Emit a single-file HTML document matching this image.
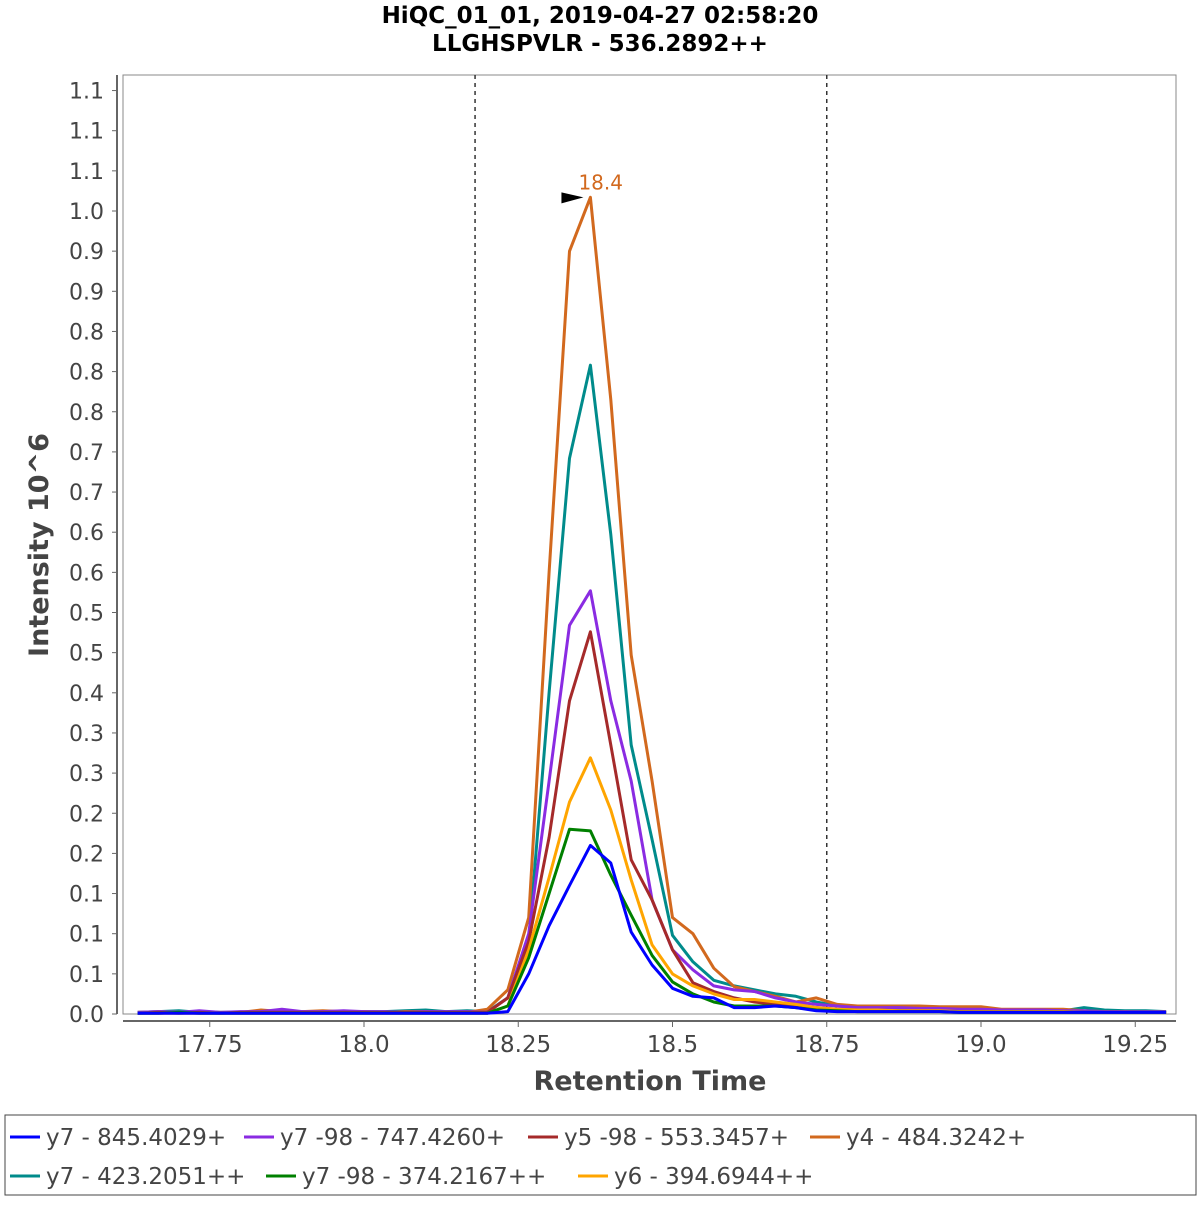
<!DOCTYPE html>
<html><head><meta charset="utf-8"><style>
body{margin:0;background:#fff;}
svg text{font-family:"DejaVu Sans","Liberation Sans",sans-serif;}
</style></head><body>
<svg id="c" width="1200" height="1200" xmlns="http://www.w3.org/2000/svg">
<rect width="1200" height="1200" fill="#fff"/>
<text x="600" y="23" text-anchor="middle" font-size="23" font-weight="bold">HiQC_01_01, 2019-04-27 02:58:20</text>
<text x="600" y="51" text-anchor="middle" font-size="23" font-weight="bold">LLGHSPVLR - 536.2892++</text>
<rect x="123" y="75" width="1053" height="939" fill="none" stroke="#888" stroke-width="1"/>
<g id="grid"></g>
<g id="series"></g>
<text x="48" y="545" transform="rotate(-90 48 545)" text-anchor="middle" font-size="27" font-weight="bold" fill="#444">Intensity 10^6</text>
<text x="650" y="1090" text-anchor="middle" font-size="27" font-weight="bold" fill="#444">Retention Time</text>
<rect x="5" y="1115" width="1191" height="80" fill="#fff" stroke="#444" stroke-width="1"/>
<g id="legend"></g>
</svg>
<script>
const times=[17.633,17.667,17.700,17.733,17.767,17.800,17.833,17.867,17.900,17.933,17.967,18.000,18.033,18.067,18.100,18.133,18.167,18.200,18.233,18.267,18.300,18.333,18.367,18.400,18.433,18.467,18.500,18.533,18.567,18.600,18.633,18.667,18.700,18.733,18.767,18.800,18.833,18.867,18.900,18.933,18.967,19.000,19.033,19.067,19.100,19.133,19.167,19.200,19.233,19.267,19.300];
const seriesNames=["y7 - 845.4029+","y7 -98 - 747.4260+","y5 -98 - 553.3457+","y4 - 484.3242+","y7 - 423.2051++","y7 -98 - 374.2167++","y6 - 394.6944++"];
const seriesColors=["#0000ff","#8a2be2","#a52a2a","#d2691e","#008b8b","#008000","#ffa500"];
const blueVals=[0.001,0.001,0.001,0.001,0.001,0.001,0.001,0.001,0.001,0.001,0.001,0.001,0.001,0.001,0.001,0.001,0.001,0.001,0.003,0.05,0.11,0.16,0.21,0.188,0.102,0.061,0.032,0.022,0.020,0.008,0.008,0.010,0.008,0.004,0.003,0.003,0.003,0.003,0.003,0.003,0.002,0.002,0.002,0.002,0.002,0.002,0.002,0.002,0.002,0.002,0.002];
const purpleVals=[0.002,0.003,0.002,0.004,0.002,0.003,0.003,0.006,0.003,0.003,0.004,0.003,0.003,0.002,0.003,0.003,0.003,0.002,0.02,0.10,0.29,0.484,0.527,0.39,0.29,0.142,0.08,0.055,0.035,0.030,0.028,0.020,0.015,0.012,0.010,0.008,0.008,0.008,0.007,0.007,0.006,0.006,0.005,0.005,0.005,0.004,0.004,0.003,0.003,0.003,0.003];
const brownVals=[0.001,0.002,0.001,0.002,0.001,0.002,0.002,0.002,0.002,0.002,0.002,0.002,0.002,0.002,0.002,0.002,0.002,0.002,0.02,0.09,0.22,0.39,0.476,0.335,0.192,0.142,0.08,0.039,0.028,0.020,0.015,0.012,0.010,0.008,0.006,0.005,0.005,0.004,0.004,0.004,0.003,0.003,0.003,0.003,0.003,0.003,0.002,0.002,0.002,0.002,0.002];
const orangeVals=[0.002,0.003,0.002,0.003,0.002,0.002,0.005,0.003,0.003,0.004,0.003,0.003,0.002,0.003,0.003,0.002,0.002,0.006,0.03,0.12,0.55,0.95,1.017,0.765,0.447,0.29,0.12,0.10,0.057,0.034,0.028,0.022,0.015,0.020,0.012,0.010,0.010,0.010,0.010,0.009,0.009,0.009,0.006,0.006,0.006,0.006,0.004,0.003,0.003,0.002,0.002];
const tealVals=[0.002,0.003,0.004,0.002,0.002,0.002,0.002,0.002,0.003,0.003,0.002,0.003,0.003,0.004,0.005,0.003,0.004,0.003,0.02,0.09,0.40,0.692,0.808,0.597,0.335,0.217,0.098,0.065,0.042,0.035,0.030,0.025,0.022,0.015,0.010,0.008,0.007,0.006,0.006,0.005,0.005,0.005,0.004,0.004,0.004,0.004,0.008,0.005,0.004,0.004,0.003];
const greenVals=[0.001,0.001,0.002,0.001,0.001,0.001,0.001,0.001,0.001,0.001,0.001,0.001,0.001,0.001,0.001,0.001,0.001,0.001,0.01,0.07,0.15,0.23,0.228,0.173,0.123,0.073,0.040,0.025,0.015,0.010,0.010,0.010,0.008,0.005,0.004,0.003,0.003,0.003,0.003,0.003,0.002,0.002,0.002,0.002,0.002,0.002,0.002,0.002,0.002,0.002,0.002];
const goldVals=[0.001,0.001,0.001,0.001,0.001,0.001,0.001,0.001,0.001,0.001,0.001,0.001,0.001,0.001,0.001,0.001,0.001,0.001,0.01,0.08,0.17,0.264,0.319,0.254,0.167,0.086,0.050,0.035,0.025,0.018,0.018,0.015,0.012,0.008,0.006,0.005,0.005,0.004,0.004,0.004,0.003,0.003,0.003,0.003,0.003,0.003,0.002,0.002,0.002,0.002,0.002];
const yTickValues=[0,0.05,0.1,0.15,0.2,0.25,0.3,0.35,0.4,0.45,0.5,0.55,0.6,0.65,0.7,0.75,0.8,0.85,0.9,0.95,1.0,1.05,1.1,1.15];
const yTickLabels=["0.0","0.1","0.1","0.1","0.2","0.2","0.3","0.3","0.4","0.5","0.5","0.6","0.6","0.7","0.7","0.8","0.8","0.8","0.9","0.9","1.0","1.1","1.1","1.1"];
const xTickValues=[17.75,18.0,18.25,18.5,18.75,19.0,19.25];
const xTickLabels=["17.75","18.0","18.25","18.5","18.75","19.0","19.25"];
const boundaryTimes=[18.18,18.75];
const peakTime=18.367, peakValue=1.017, peakLabel="18.4";

const NS="http://www.w3.org/2000/svg";
const X=t=>364+(t-18)*617;
const Y=v=>1014-v*803;
function mk(tag,attrs,parent){const e=document.createElementNS(NS,tag);for(const k in attrs)e.setAttribute(k,attrs[k]);parent.appendChild(e);return e;}
const grid=document.getElementById('grid'),ser=document.getElementById('series'),leg=document.getElementById('legend');
let ax=mk('line',{x1:117,y1:75,x2:117,y2:1014,stroke:'#666','stroke-width':2},grid);


let bx=mk('line',{x1:123,y1:1021,x2:1176,y2:1021,stroke:'#666','stroke-width':2},grid);


yTickValues.forEach((v,i)=>{const y=Y(v);
 mk('line',{x1:112,y1:y,x2:117,y2:y,stroke:'#666'},grid);
 const t=mk('text',{x:104,y:y+8,'text-anchor':'end','font-size':22,fill:'#444'},grid);t.textContent=yTickLabels[i];
 
 });
xTickValues.forEach((v,i)=>{const x=X(v);
 mk('line',{x1:x,y1:1021,x2:x,y2:1027,stroke:'#666'},grid);
 const t=mk('text',{x:x,y:1052,'text-anchor':'middle','font-size':23,fill:'#444'},grid);t.textContent=xTickLabels[i];
 
 });
boundaryTimes.forEach(b=>{const l=mk('line',{x1:X(b),y1:75,x2:X(b),y2:1014,stroke:'#333','stroke-width':1.5,'stroke-dasharray':'4,4'},grid);
 
 });
const allVals=[blueVals,purpleVals,brownVals,orangeVals,tealVals,greenVals,goldVals];
const order=[4,3,1,2,6,5,0];
order.forEach(si=>{const vals=allVals[si];
 const p=mk('polyline',{points:vals.map((v,i)=>X(times[i]).toFixed(1)+','+Y(v).toFixed(1)).join(' '),fill:'none',stroke:seriesColors[si],'stroke-width':3,'stroke-linejoin':'round'},ser);
 
 });
const px=X(peakTime),py=Y(peakValue);
const ar=mk('polygon',{points:(px-29)+','+(py-5)+' '+(px-7)+','+py+' '+(px-29)+','+(py+6)},ser);


const pl=mk('text',{x:px-12,y:py-8,'font-size':20,fill:'#d2691e'},ser);pl.textContent=peakLabel;


const legPos=[[10,1137],[244,1137],[528,1137],[810,1137],[10,1176],[266,1176],[578,1176]];
seriesNames.forEach((n,i)=>{const [x,y]=legPos[i];
 const g=mk('g',{},leg);
 
 
 mk('line',{x1:x,y1:y,x2:x+30,y2:y,stroke:seriesColors[i],'stroke-width':3},g);
 const t=mk('text',{x:x+36,y:y+8,'font-size':23,fill:'#444'},g);t.textContent=n;});
</script>
</body></html>
